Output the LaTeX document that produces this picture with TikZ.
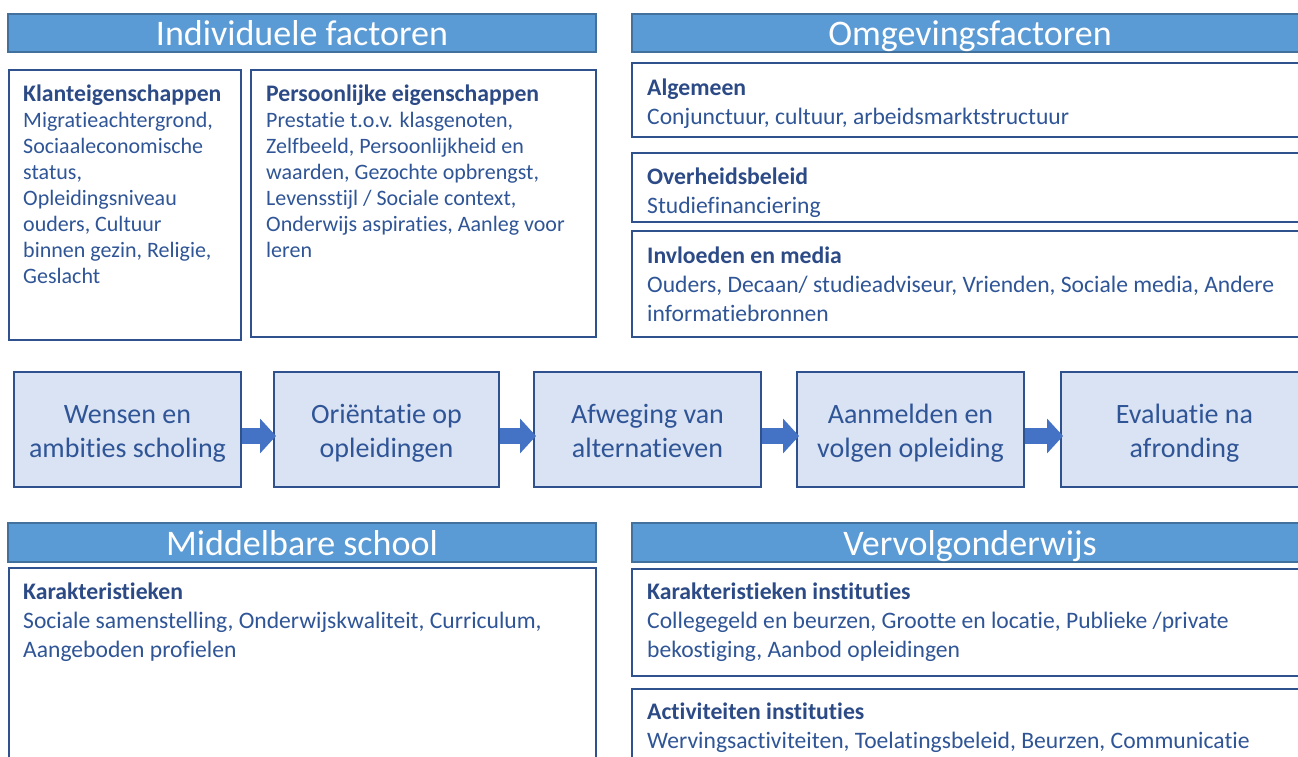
\documentclass[tikz,border=0pt]{standalone}
\usepackage{fontspec}
\setmainfont{Carlito}[Ligatures=NoCommon]
\usetikzlibrary{arrows.meta,positioning}

\definecolor{headblue}{HTML}{5B9BD5}
\definecolor{headline}{HTML}{41719C}
\definecolor{boxline}{HTML}{2F528F}
\definecolor{stepfill}{HTML}{DAE3F3}
\definecolor{arrowblue}{HTML}{4472C4}
\definecolor{textblue}{HTML}{2F5597}
\definecolor{titleblue}{HTML}{2B4A86}

\tikzstyle{header} = [rectangle, draw=headline, fill=headblue, line width=1.5pt, text=white, inner sep=0pt, text depth=0pt, font=\fontsize{36}{40}\selectfont]
\tikzstyle{factbox} = [rectangle, draw=boxline, line width=2pt, fill=white, inner sep=0pt]
\tikzstyle{facts} = [anchor=north west, align=left, inner sep=0pt, text=textblue, font=\fontsize{23.6}{29}\selectfont]
\tikzstyle{stepbox} = [rectangle, draw=boxline, fill=stepfill, line width=2pt, minimum height=115pt, align=center, text=textblue, font=\fontsize{28}{33.5}\selectfont]
\tikzstyle{flow} = [draw=arrowblue, line width=16pt, -{Triangle[width=34pt,length=16pt]}]

\newcommand{\kop}[2][29]{{\fontsize{23.7}{#1}\selectfont\bfseries\color{titleblue}#2}}
% struts so that all step texts sit at the same height
\newcommand{\stepup}{\rule{0pt}{29pt}}
\newcommand{\stepdn}{\rule[-7.5pt]{0pt}{7.5pt}}

\begin{document}
\begin{tikzpicture}[x=1pt, y=-1pt]
        \useasboundingbox (0,0) rectangle (1298,756);
        \clip (0,0) rectangle (1298,756);

        % Individuele factoren
        \node[header, minimum width=588pt, minimum height=38pt] (indiv) at (302,33) {Individuele factoren};
        \node[factbox, minimum width=232pt, minimum height=270pt] (klant) at (125,205) {};
        \node[factbox, minimum width=345pt, minimum height=267pt] (pers) at (423.5,203.5) {};
        \node[facts, font=\fontsize{22}{26}\selectfont] (klanttxt) at ([xshift=15pt,yshift=-16pt]klant.north west) {
            \kop[26]{Klanteigenschappen}\\ Migratieachtergrond,\\ Sociaaleconomische\\ status,\\ Opleidingsniveau\\ ouders, Cultuur\\ binnen gezin, Religie,\\ Geslacht
        };
        \node[facts, font=\fontsize{22}{26}\selectfont] (perstxt) at ([xshift=16pt,yshift=-16pt]pers.north west) {
            \kop[26]{Persoonlijke eigenschappen}\\ Prestatie t.o.v. klasgenoten,\\ Zelfbeeld, Persoonlijkheid en\\ waarden, Gezochte opbrengst,\\ Levensstijl / Sociale context,\\ Onderwijs aspiraties, Aanleg voor\\ leren
        };

        % Omgevingsfactoren
        \node[header, minimum width=676pt, minimum height=38pt] (omg) at (970,33) {Omgevingsfactoren};
        \node[factbox, minimum width=676pt, minimum height=74pt] (alg) at (970,100) {};
        \node[factbox, minimum width=676pt, minimum height=69pt] (overh) at (970,187.5) {};
        \node[factbox, minimum width=676pt, minimum height=106pt] (invl) at (970,284) {};
        \node[facts] (algtxt) at ([xshift=16pt,yshift=-17pt]alg.north west) {
            \kop{Algemeen}\\ Conjunctuur, cultuur, arbeidsmarktstructuur
        };
        \node[facts] (overhtxt) at ([xshift=16pt,yshift=-16pt]overh.north west) {
            \kop{Overheidsbeleid}\\ Studiefinanciering
        };
        \node[facts] (invltxt) at ([xshift=16pt,yshift=-17pt]invl.north west) {
            \kop{Invloeden en media}\\ Ouders, Decaan/ studieadviseur, Vrienden, Sociale media, Andere\\ informatiebronnen
        };

        % Keuzeproces
        \node[stepbox, minimum width=227pt] (wens) at (127.5,429.5) {\stepup Wensen en\\ ambities scholing\stepdn};
        \node[stepbox, minimum width=225pt] (orient) at (386.5,429.5) {\stepup Oriëntatie op\\ opleidingen\stepdn};
        \node[stepbox, minimum width=227pt] (afweg) at (647.5,429.5) {\stepup Afweging van\\ alternatieven\stepdn};
        \node[stepbox, minimum width=227pt] (aanm) at (910.5,429.5) {\stepup Aanmelden en\\ volgen opleiding\stepdn};
        \node[stepbox, minimum width=247pt] (eval) at (1184.5,429.5) {\stepup Evaluatie na\\ afronding\stepdn};
        \foreach \a/\b in {wens/orient, orient/afweg, afweg/aanm, aanm/eval}
            \draw[flow] ([yshift=-6.5pt]\a.east) -- ([yshift=-6.5pt,xshift=3pt]\b.west);

        % Middelbare school
        \node[header, minimum width=588pt, minimum height=39pt] (mbs) at (302,542.5) {Middelbare school};
        \node[factbox, minimum width=587pt, minimum height=232pt] (mbsbox) at (302.5,684) {};
        \node[facts] (mbstxt) at ([xshift=15pt,yshift=-16pt]mbsbox.north west) {
            \kop{Karakteristieken}\\ Sociale samenstelling, Onderwijskwaliteit, Curriculum,\\ Aangeboden profielen
        };

        % Vervolgonderwijs
        \node[header, minimum width=676pt, minimum height=39pt] (verv) at (970,542.5) {Vervolgonderwijs};
        \node[factbox, minimum width=676pt, minimum height=107pt] (kar) at (970,622.5) {};
        \node[factbox, minimum width=676pt, minimum height=111pt] (act) at (970,744.5) {};
        \node[facts] (kartxt) at ([xshift=16pt,yshift=-15pt]kar.north west) {
            \kop{Karakteristieken instituties}\\ Collegegeld en beurzen, Grootte en locatie, Publieke /private\\ bekostiging, Aanbod opleidingen
        };
        \node[facts] (acttxt) at ([xshift=16pt,yshift=-15pt]act.north west) {
            \kop{Activiteiten instituties}\\ Wervingsactiviteiten, Toelatingsbeleid, Beurzen, Communicatie
        };
\end{tikzpicture}
\end{document}
